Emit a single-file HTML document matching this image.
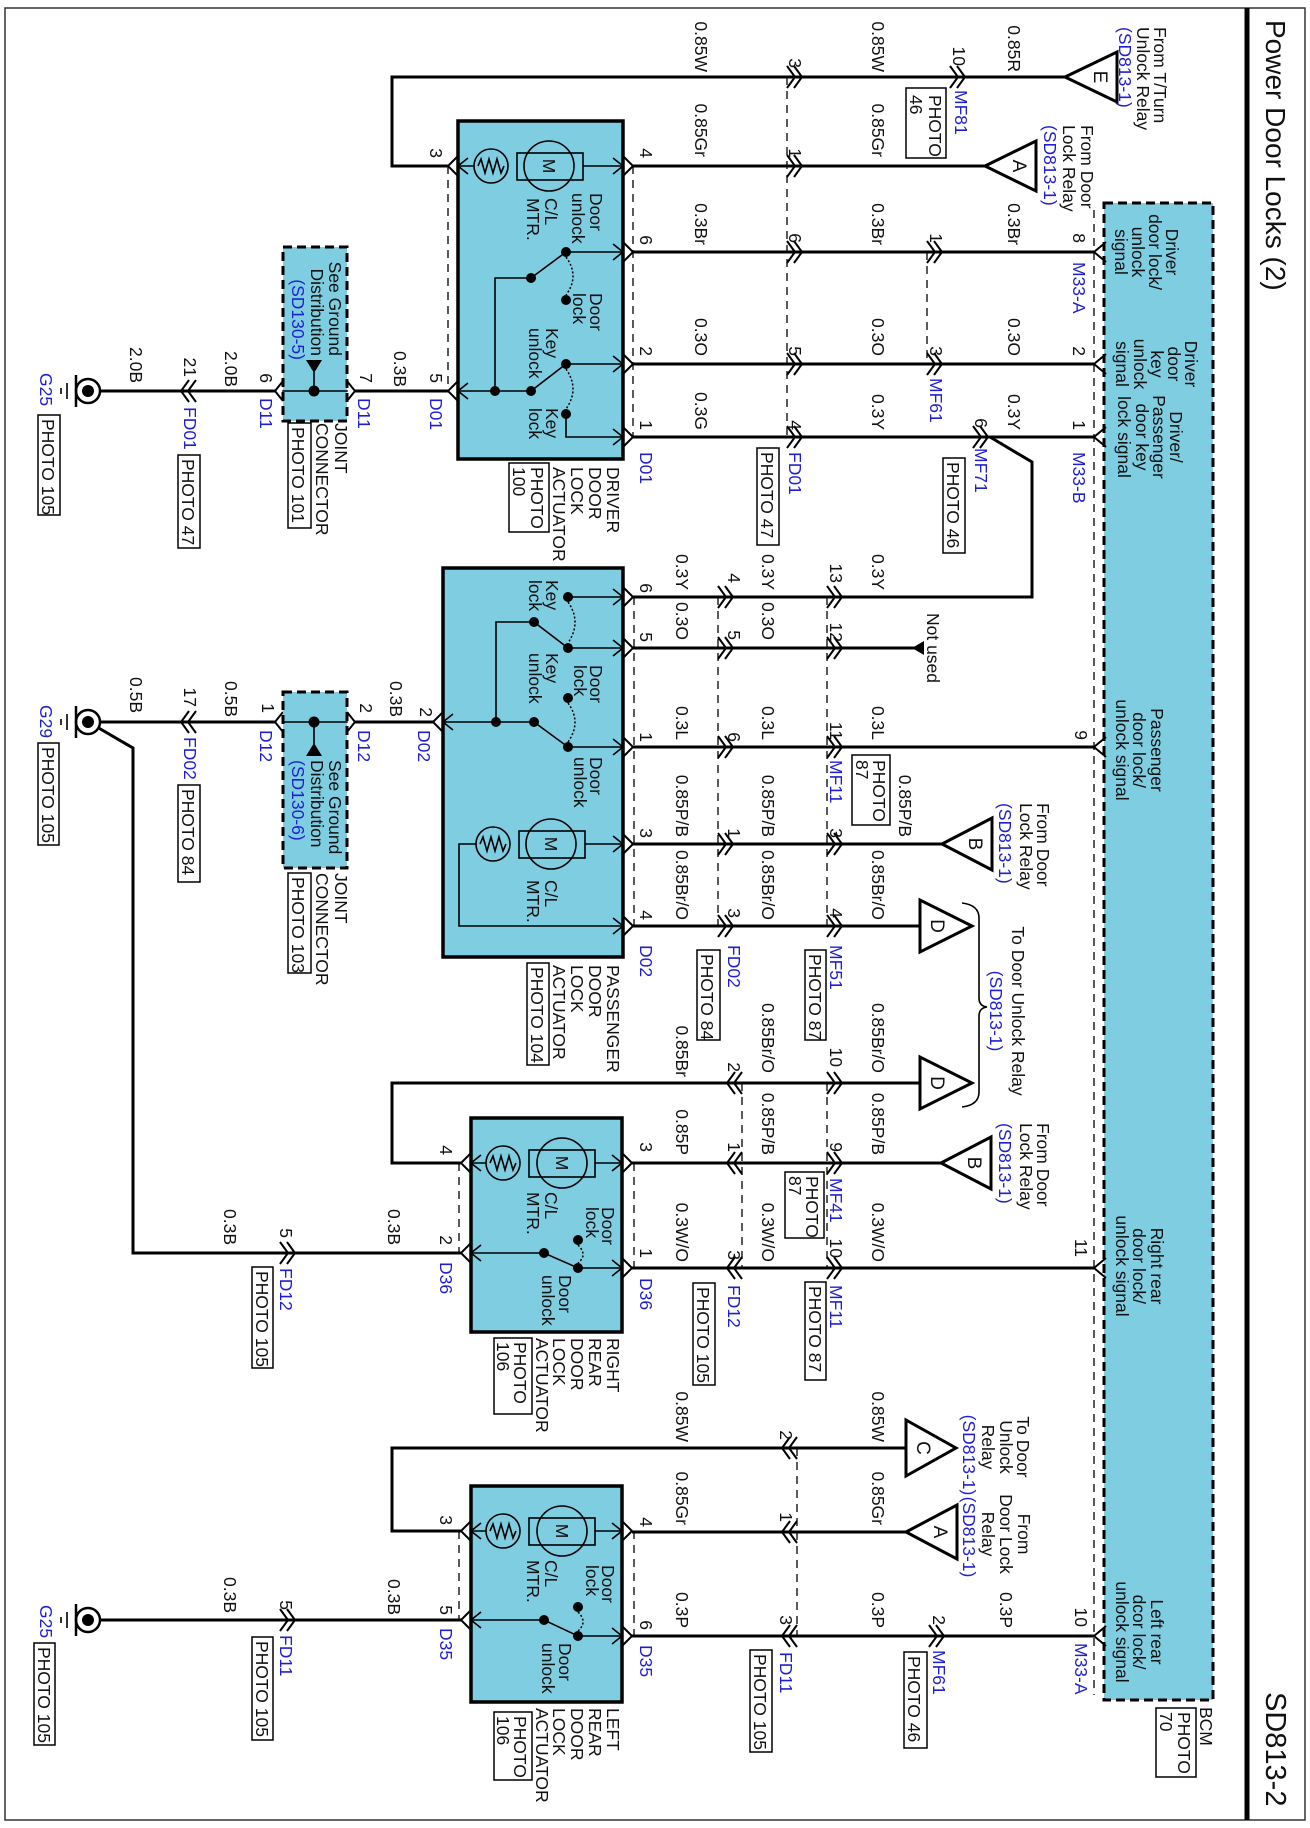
<!DOCTYPE html>
<html><head><meta charset="utf-8"><style>
body{margin:0;background:#fff}
svg{display:block}
text{font-family:"Liberation Sans",Arial,sans-serif;font-size:17.5px;fill:#111}
.b{fill:#1f1fd0}.e{text-anchor:end}.m{text-anchor:middle}
.w{stroke:#000;stroke-width:3;fill:none}
.t{stroke:#000;stroke-width:1.6;fill:none}
.c{stroke:#000;stroke-width:2;fill:none}
.d{stroke:#000;stroke-width:1.3;fill:none;stroke-dasharray:8 6}
.dt{stroke:#000;stroke-width:1.5;fill:none;stroke-dasharray:2 2}
.box{fill:#7fcde1;stroke:#000;stroke-width:3.5}
.jb{fill:#7fcde1;stroke:#000;stroke-width:3;stroke-dasharray:9 5}
.pb{fill:#fff;stroke:#000;stroke-width:1.5}
.tri{fill:#fff;stroke:#000;stroke-width:3}
</style></head><body>
<svg width="1310" height="1828" viewBox="0 0 1310 1828" xmlns="http://www.w3.org/2000/svg">
<rect x="5" y="8" width="1300" height="1812" fill="none" stroke="#333" stroke-width="1.5"/>
<line x1="1247" y1="8" x2="1247" y2="1820" stroke="#000" stroke-width="5"/>
<text transform="translate(1266 20) rotate(90)" style="font-size:28px">Power Door Locks (2)</text>
<text transform="translate(1266 1692) rotate(90)" style="font-size:29px">SD813-2</text>

<!-- BCM -->
<rect x="1104" y="203" width="109" height="1497" class="jb"/>
<line x1="1094" y1="210" x2="1094" y2="1695" class="d"/>
<path class="c" d="M1106 242L1094 252L1106 262M1106 354L1094 364L1106 374M1106 427L1094 437L1106 447M1106 737L1094 747L1106 757M1106 1258L1094 1268L1106 1278M1106 1626L1094 1636L1106 1646"/>
<g>
<text class="m" transform="translate(1166 252) rotate(90)">Driver</text>
<text class="m" transform="translate(1149 252) rotate(90)">door lock/</text>
<text class="m" transform="translate(1132 252) rotate(90)">unlock</text>
<text class="m" transform="translate(1115 252) rotate(90)">signal</text>
<text class="m" transform="translate(1185 364) rotate(90)">Driver</text>
<text class="m" transform="translate(1168 364) rotate(90)">door</text>
<text class="m" transform="translate(1151 364) rotate(90)">key</text>
<text class="m" transform="translate(1134 364) rotate(90)">unlock</text>
<text class="m" transform="translate(1116 364) rotate(90)">signal</text>
<text class="m" transform="translate(1170 437) rotate(90)">Driver/</text>
<text class="m" transform="translate(1153 437) rotate(90)">Passenger</text>
<text class="m" transform="translate(1136 437) rotate(90)">door key</text>
<text class="m" transform="translate(1118 437) rotate(90)">lock signal</text>
<text class="m" transform="translate(1151 750) rotate(90)">Passenger</text>
<text class="m" transform="translate(1133 750) rotate(90)">door lock/</text>
<text class="m" transform="translate(1116 750) rotate(90)">unlock signal</text>
<text class="m" transform="translate(1151 1266) rotate(90)">Right rear</text>
<text class="m" transform="translate(1133 1266) rotate(90)">door lock/</text>
<text class="m" transform="translate(1116 1266) rotate(90)">unlock signal</text>
<text class="m" transform="translate(1151 1632) rotate(90)">Left rear</text>
<text class="m" transform="translate(1133 1632) rotate(90)">dcor lock/</text>
<text class="m" transform="translate(1116 1632) rotate(90)">unlock signal</text>
<text transform="translate(1200 1707) rotate(90)">BCM</text>
</g>
<rect x="1156" y="1708" width="40" height="69" class="pb"/>
<text transform="translate(1178 1712) rotate(90)">PHOTO</text>
<text transform="translate(1160 1712) rotate(90)">70</text>

<!-- WIRES -->
<path class="w" d="M1065 77H392V166H448"/>
<path class="w" d="M985 166H633"/>
<path class="w" d="M1094 252H633M1094 364H633M1094 437H633"/>
<path class="w" d="M990 437L1032 462V597H633"/>
<path class="w" d="M448 391H355M275 391H100"/>
<path class="w" d="M1094 747H633M942 844H633M920 926H633M918 648H633"/>
<path class="w" d="M433 722H355M275 722H100"/>
<path class="w" d="M97 727L133 748V1253H461"/>
<path class="w" d="M920 1083H392V1163H461M941 1163H632M1094 1268H632"/>
<path class="w" d="M906 1448H392V1531H461M906 1532H632M1094 1636H632M461 1620H100"/>

<!-- chevrons -->
<path class="c" d="M950 66L958 77L950 88M957 66L965 77L957 88
M787 66L795 77L787 88M794 66L802 77L794 88
M787 155L795 166L787 177M794 155L802 166L794 177
M927 241L935 252L927 263M934 241L942 252L934 263
M787 241L795 252L787 263M794 241L802 252L794 263
M927 353L935 364L927 375M934 353L942 364L934 375
M787 353L795 364L787 375M794 353L802 364L794 375
M973 426L981 437L973 448M980 426L988 437L980 448
M787 426L795 437L787 448M794 426L802 437L794 448
M827 586L835 597L827 608M834 586L842 597L834 608
M827 637L835 648L827 659M834 637L842 648L834 659
M827 736L835 747L827 758M834 736L842 747L834 758
M827 833L835 844L827 855M834 833L842 844L834 855
M827 915L835 926L827 937M834 915L842 926L834 937
M718 586L726 597L718 608M725 586L733 597L725 608
M718 637L726 648L718 659M725 637L733 648L725 659
M718 736L726 747L718 758M725 736L733 747L725 758
M718 833L726 844L718 855M725 833L733 844L725 855
M718 915L726 926L718 937M725 915L733 926L725 937
M827 1072L835 1083L827 1094M834 1072L842 1083L834 1094
M827 1152L835 1163L827 1174M834 1152L842 1163L834 1174
M827 1257L835 1268L827 1279M834 1257L842 1268L834 1279
M742 1072L734 1083L742 1094M735 1072L727 1083L735 1094
M742 1152L734 1163L742 1174M735 1152L727 1163L735 1174
M742 1257L734 1268L742 1279M735 1257L727 1268L735 1279
M797 1437L789 1448L797 1459M790 1437L782 1448L790 1459
M797 1521L789 1532L797 1543M790 1521L782 1532L790 1543
M797 1625L789 1636L797 1647M790 1625L782 1636L790 1647
M929 1625L937 1636L929 1647M936 1625L944 1636L936 1647
M280 1242L288 1253L280 1264M287 1242L295 1253L287 1264
M280 1609L288 1620L280 1631M287 1609L295 1620L287 1631
M196 380L188 391L196 402M189 380L181 391L189 402
M196 711L188 722L196 733M189 711L181 722L189 733"/>

<!-- dashed connector groups -->
<path class="d" d="M787 77V437M927 252V364M633 166V437M448 166V391
M718 597V926M827 597V926M634 597V926
M827 1083V1268M742 1083V1268M634 1163V1268M459 1163V1253
M797 1448V1636M634 1531V1636M459 1531V1620"/>

<!-- triangles -->
<polygon class="tri" points="1065,77 1117,52 1117,102"/>
<polygon class="tri" points="985,166 1036,141 1036,191"/>
<polygon class="tri" points="942,844 992,818 992,870"/>
<polygon class="tri" points="920,900 920,952 972,926"/>
<polygon class="tri" points="920,1057 920,1109 972,1083"/>
<polygon class="tri" points="941,1163 991,1137 991,1189"/>
<polygon class="tri" points="906,1420 906,1476 956,1448"/>
<polygon class="tri" points="906,1532 957,1505 957,1559"/>
<g style="font-size:19px">
<text class="m" transform="translate(1094 77) rotate(90)" style="font-size:19px">E</text>
<text class="m" transform="translate(1013 166) rotate(90)" style="font-size:19px">A</text>
<text class="m" transform="translate(969 844) rotate(90)" style="font-size:19px">B</text>
<text class="m" transform="translate(931 926) rotate(90)" style="font-size:19px">D</text>
<text class="m" transform="translate(931 1083) rotate(90)" style="font-size:19px">D</text>
<text class="m" transform="translate(968 1163) rotate(90)" style="font-size:19px">B</text>
<text class="m" transform="translate(917 1448) rotate(90)" style="font-size:19px">C</text>
<text class="m" transform="translate(934 1532) rotate(90)" style="font-size:19px">A</text>
</g>
<path class="t" d="M962 903Q979 905 979 918V998Q979 1006 987 1007Q979 1008 979 1016V1092Q979 1105 962 1107"/>
<polygon points="912,648 924,641 924,655" fill="#000"/>

<!-- ACTUATOR BOXES -->
<rect x="458" y="121" width="165" height="338" class="box"/>
<rect x="443" y="568" width="180" height="389" class="box"/>
<rect x="471" y="1118" width="151" height="214" class="box"/>
<rect x="471" y="1486" width="151" height="216" class="box"/>
<!-- outer pin chevrons -->
<path class="c" d="M623 156L633 166L623 176M623 242L633 252L623 262M623 354L633 364L623 374M623 427L633 437L623 447
M458 156L448 166L458 176M458 381L448 391L458 401
M623 587L633 597L623 607M623 638L633 648L623 658M623 737L633 747L623 757M623 834L633 844L623 854M623 916L633 926L623 936
M443 712L433 722L443 732
M622 1153L632 1163L622 1173M622 1258L632 1268L622 1278M471 1153L461 1163L471 1173M471 1243L461 1253L471 1263
M622 1521L632 1531L622 1541M622 1626L632 1636L622 1646M471 1521L461 1531L471 1541M471 1610L461 1620L471 1630
M347 381L355 391L347 401M283 381L275 391L283 401M347 712L355 722L347 732M283 712L275 722L283 732"/>
<!-- inner arrows -->
<path class="t" d="M613 158L623 166L613 174M613 244L623 252L613 260M613 356L623 364L613 372M613 429L623 437L613 445
M468 158L458 166L468 174M468 383L458 391L468 399
M613 589L623 597L613 605M613 640L623 648L613 656M613 739L623 747L613 755M613 836L623 844L613 852M613 918L623 926L613 934
M453 714L443 722L453 730
M612 1155L622 1163L612 1171M612 1260L622 1268L612 1276M481 1155L471 1163L481 1171M481 1245L471 1253L481 1261
M612 1523L622 1531L612 1539M612 1628L622 1636L612 1644M481 1523L471 1531L481 1539M481 1612L471 1620L481 1628
M337 383L347 391L337 399M293 383L283 391L293 399M337 714L347 722L337 730M293 714L283 722L293 730"/>

<!-- motors -->
<g class="t">
<path d="M583 166H623M474 166H458"/>
<path d="M585 844H623M476 844H459V926H623"/>
<path d="M595 1163H622M486 1163H471"/>
<path d="M595 1531H622M486 1531H471"/>
</g>
<g>
<rect x="517" y="153" width="66" height="27" fill="#7fcde1" class="t"/>
<circle cx="549" cy="166" r="25" fill="#7fcde1" class="t"/>
<circle cx="491" cy="166" r="17" fill="#7fcde1" class="t"/>
<polyline class="t" points="478,166 481,159 485,173 489,159 493,173 497,159 501,173 504,166"/>
<rect x="519" y="831" width="66" height="27" fill="#7fcde1" class="t"/>
<circle cx="551" cy="844" r="25" fill="#7fcde1" class="t"/>
<circle cx="493" cy="844" r="17" fill="#7fcde1" class="t"/>
<polyline class="t" points="480,844 483,837 487,851 491,837 495,851 499,837 503,851 506,844"/>
<rect x="529" y="1150" width="66" height="27" fill="#7fcde1" class="t"/>
<circle cx="562" cy="1163" r="25" fill="#7fcde1" class="t"/>
<circle cx="503" cy="1163" r="17" fill="#7fcde1" class="t"/>
<polyline class="t" points="490,1163 493,1156 497,1170 501,1156 505,1170 509,1156 513,1170 516,1163"/>
<rect x="529" y="1518" width="66" height="27" fill="#7fcde1" class="t"/>
<circle cx="562" cy="1531" r="25" fill="#7fcde1" class="t"/>
<circle cx="503" cy="1531" r="17" fill="#7fcde1" class="t"/>
<polyline class="t" points="490,1531 493,1524 497,1538 501,1524 505,1538 509,1524 513,1538 516,1531"/>
</g>
<text class="m" transform="translate(543 166) rotate(90)">M</text>
<text class="m" transform="translate(545 844) rotate(90)">M</text>
<text class="m" transform="translate(556 1163) rotate(90)">M</text>
<text class="m" transform="translate(556 1531) rotate(90)">M</text>

<!-- switches -->
<path class="t" d="M458 391H531M495 391V278H531M531 278L566 252M566 252H623M531 391L566 364M566 364H623M566 414V437H623
M443 722H534M496 722V622H534M534 622L568 648M568 648H623M568 597H623M534 722L568 747M568 747H623
M471 1253H544L578 1268H622M471 1620H544L578 1636H622"/>
<path class="dt" d="M566 257Q580 276 566 295M566 369Q580 389 566 409M568 602Q582 622 568 643M568 703Q582 722 568 742M578 1245Q588 1255 578 1263M578 1612Q588 1622 578 1631"/>
<g fill="#000">
<circle cx="495" cy="391" r="5"/><circle cx="531" cy="278" r="5"/><circle cx="566" cy="252" r="5"/><circle cx="566" cy="300" r="5"/>
<circle cx="531" cy="391" r="5"/><circle cx="566" cy="364" r="5"/><circle cx="566" cy="414" r="5"/>
<circle cx="496" cy="722" r="5"/><circle cx="534" cy="622" r="5"/><circle cx="568" cy="648" r="5"/><circle cx="568" cy="597" r="5"/>
<circle cx="534" cy="722" r="5"/><circle cx="568" cy="747" r="5"/><circle cx="568" cy="698" r="5"/>
<circle cx="544" cy="1253" r="5"/><circle cx="578" cy="1268" r="5"/><circle cx="578" cy="1240" r="5"/>
<circle cx="544" cy="1620" r="5"/><circle cx="578" cy="1636" r="5"/><circle cx="578" cy="1607" r="5"/>
</g>

<!-- inner texts -->
<g>
<text transform="translate(590 193) rotate(90)">Door</text><text transform="translate(572 193) rotate(90)">unlock</text>
<text transform="translate(545 198) rotate(90)">C/L</text><text transform="translate(527 198) rotate(90)">MTR.</text>
<text transform="translate(590 293) rotate(90)">Door</text><text transform="translate(573 293) rotate(90)">lock</text>
<text transform="translate(546 328) rotate(90)">Key</text><text transform="translate(529 328) rotate(90)">unlock</text>
<text transform="translate(546 408) rotate(90)">Key</text><text transform="translate(529 408) rotate(90)">lock</text>
<text transform="translate(546 580) rotate(90)">Key</text><text transform="translate(529 580) rotate(90)">lock</text>
<text transform="translate(546 653) rotate(90)">Key</text><text transform="translate(529 653) rotate(90)">unlock</text>
<text transform="translate(590 665) rotate(90)">Door</text><text transform="translate(574 665) rotate(90)">lock</text>
<text transform="translate(590 757) rotate(90)">Door</text><text transform="translate(574 757) rotate(90)">unlock</text>
<text transform="translate(545 880) rotate(90)">C/L</text><text transform="translate(527 880) rotate(90)">MTR.</text>
<text transform="translate(602 1207) rotate(90)">Door</text><text transform="translate(586 1207) rotate(90)">lock</text>
<text transform="translate(545 1192) rotate(90)">C/L</text><text transform="translate(527 1192) rotate(90)">MTR.</text>
<text transform="translate(559 1275) rotate(90)">Door</text><text transform="translate(542 1275) rotate(90)">unlock</text>
<text transform="translate(602 1565) rotate(90)">Door</text><text transform="translate(586 1565) rotate(90)">lock</text>
<text transform="translate(545 1560) rotate(90)">C/L</text><text transform="translate(527 1560) rotate(90)">MTR.</text>
<text transform="translate(559 1643) rotate(90)">Door</text><text transform="translate(542 1643) rotate(90)">unlock</text>
</g>

<!-- actuator labels -->
<g>
<text transform="translate(607 467) rotate(90)">DRIVER</text><text transform="translate(589 467) rotate(90)">DOOR</text>
<text transform="translate(571 467) rotate(90)">LOCK</text><text transform="translate(553 467) rotate(90)">ACTUATOR</text>
<text transform="translate(607 965) rotate(90)">PASSENGER</text><text transform="translate(589 965) rotate(90)">DOOR</text>
<text transform="translate(571 965) rotate(90)">LOCK</text><text transform="translate(553 965) rotate(90)">ACTUATOR</text>
<text transform="translate(607 1338) rotate(90)">RIGHT</text><text transform="translate(589 1338) rotate(90)">REAR</text>
<text transform="translate(571 1338) rotate(90)">DOOR</text><text transform="translate(553 1338) rotate(90)">LOCK</text>
<text transform="translate(536 1338) rotate(90)">ACTUATOR</text>
<text transform="translate(607 1708) rotate(90)">LEFT</text><text transform="translate(589 1708) rotate(90)">REAR</text>
<text transform="translate(571 1708) rotate(90)">DOOR</text><text transform="translate(553 1708) rotate(90)">LOCK</text>
<text transform="translate(536 1708) rotate(90)">ACTUATOR</text>
</g>

<!-- joint connectors -->
<rect x="283" y="247" width="64" height="174" class="jb"/>
<rect x="283" y="692" width="64" height="176" class="jb"/>
<path class="t" d="M283 391H347M314 391V372M283 722H347M314 722V744"/>
<circle cx="314" cy="391" r="5.5"/><circle cx="314" cy="722" r="5.5"/>
<polygon points="306,360 322,360 314,373"/>
<polygon points="314,743 306,756 322,756"/>
<text class="e" transform="translate(329 356) rotate(90)">See Ground</text>
<text class="e" transform="translate(311 356) rotate(90)">Distribution</text>
<text class="e b" transform="translate(292 360) rotate(90)">(SD130-5)</text>
<text transform="translate(329 760) rotate(90)">See Ground</text>
<text transform="translate(311 760) rotate(90)">Distribution</text>
<text class="b" transform="translate(292 760) rotate(90)">(SD130-6)</text>
<text transform="translate(335 423) rotate(90)">JOINT</text>
<text transform="translate(316 423) rotate(90)">CONNECTOR</text>
<text transform="translate(335 873) rotate(90)">JOINT</text>
<text transform="translate(316 873) rotate(90)">CONNECTOR</text>

<!-- grounds -->
<g>
<circle cx="88" cy="391" r="12" fill="#fff" stroke="#000" stroke-width="2.5"/><circle cx="88" cy="391" r="6"/>
<path class="w" d="M76 375V407" style="stroke-width:2.5"/><path class="t" d="M67 383V399M61 388V394"/>
<circle cx="88" cy="722" r="12" fill="#fff" stroke="#000" stroke-width="2.5"/><circle cx="88" cy="722" r="6"/>
<path class="w" d="M76 706V738" style="stroke-width:2.5"/><path class="t" d="M67 714V730M61 719V725"/>
<circle cx="88" cy="1620" r="12" fill="#fff" stroke="#000" stroke-width="2.5"/><circle cx="88" cy="1620" r="6"/>
<path class="w" d="M76 1604V1636" style="stroke-width:2.5"/><path class="t" d="M67 1612V1628M61 1617V1623"/>
</g>

<!-- photo boxes -->
<g>
<rect x="906" y="88" width="40" height="70" class="pb"/><text transform="translate(929 95) rotate(90)">PHOTO</text><text transform="translate(910 95) rotate(90)">46</text>
<rect x="943" y="458" width="22" height="95" class="pb"/><text transform="translate(947 462) rotate(90)">PHOTO 46</text>
<rect x="757" y="448" width="22" height="97" class="pb"/><text transform="translate(761 452) rotate(90)">PHOTO 47</text>
<rect x="509" y="463" width="40" height="69" class="pb"/><text transform="translate(531 467) rotate(90)">PHOTO</text><text transform="translate(513 467) rotate(90)">100</text>
<rect x="178" y="455" width="22" height="93" class="pb"/><text transform="translate(182 459) rotate(90)">PHOTO 47</text>
<rect x="38" y="415" width="22" height="100" class="pb"/><text transform="translate(42 419) rotate(90)">PHOTO 105</text>
<rect x="288" y="423" width="23" height="105" class="pb"/><text transform="translate(292 427) rotate(90)">PHOTO 101</text>
<rect x="852" y="755" width="38" height="70" class="pb"/><text transform="translate(873 760) rotate(90)">PHOTO</text><text transform="translate(856 760) rotate(90)">87</text>
<rect x="805" y="950" width="21" height="90" class="pb"/><text transform="translate(809 954) rotate(90)">PHOTO 87</text>
<rect x="697" y="950" width="23" height="90" class="pb"/><text transform="translate(701 954) rotate(90)">PHOTO 84</text>
<rect x="527" y="963" width="22" height="102" class="pb"/><text transform="translate(531 967) rotate(90)">PHOTO 104</text>
<rect x="178" y="785" width="22" height="97" class="pb"/><text transform="translate(182 789) rotate(90)">PHOTO 84</text>
<rect x="38" y="743" width="21" height="102" class="pb"/><text transform="translate(42 747) rotate(90)">PHOTO 105</text>
<rect x="288" y="873" width="23" height="100" class="pb"/><text transform="translate(292 877) rotate(90)">PHOTO 103</text>
<rect x="785" y="1172" width="39" height="66" class="pb"/><text transform="translate(806 1176) rotate(90)">PHOTO</text><text transform="translate(789 1176) rotate(90)">87</text>
<rect x="805" y="1282" width="21" height="98" class="pb"/><text transform="translate(809 1286) rotate(90)">PHOTO 87</text>
<rect x="693" y="1283" width="22" height="102" class="pb"/><text transform="translate(697 1287) rotate(90)">PHOTO 105</text>
<rect x="494" y="1338" width="38" height="76" class="pb"/><text transform="translate(514 1342) rotate(90)">PHOTO</text><text transform="translate(497 1342) rotate(90)">106</text>
<rect x="252" y="1267" width="21" height="101" class="pb"/><text transform="translate(256 1271) rotate(90)">PHOTO 105</text>
<rect x="904" y="1652" width="23" height="96" class="pb"/><text transform="translate(908 1656) rotate(90)">PHOTO 46</text>
<rect x="750" y="1650" width="22" height="102" class="pb"/><text transform="translate(754 1654) rotate(90)">PHOTO 105</text>
<rect x="494" y="1712" width="38" height="68" class="pb"/><text transform="translate(514 1716) rotate(90)">PHOTO</text><text transform="translate(497 1716) rotate(90)">106</text>
<rect x="252" y="1637" width="21" height="103" class="pb"/><text transform="translate(256 1641) rotate(90)">PHOTO 105</text>
<rect x="34" y="1643" width="21" height="102" class="pb"/><text transform="translate(38 1647) rotate(90)">PHOTO 105</text>
</g>

<!-- source labels -->
<text transform="translate(1154 27) rotate(90)">From T/Turn</text>
<text transform="translate(1137 27) rotate(90)">Unlock Relay</text>
<text class="b" transform="translate(1119 27) rotate(90)">(SD813-1)</text>
<text transform="translate(1081 125) rotate(90)">From Door</text>
<text transform="translate(1063 125) rotate(90)">Lock Relay</text>
<text class="b" transform="translate(1044 125) rotate(90)">(SD813-1)</text>
<text transform="translate(1037 803) rotate(90)">From Door</text>
<text transform="translate(1020 803) rotate(90)">Lock Relay</text>
<text class="b" transform="translate(999 803) rotate(90)">(SD813-1)</text>
<text class="m" transform="translate(1012 1011) rotate(90)">To Door Unlock Relay</text>
<text class="m b" transform="translate(990 1011) rotate(90)">(SD813-1)</text>
<text transform="translate(1037 1123) rotate(90)">From Door</text>
<text transform="translate(1020 1123) rotate(90)">Lock Relay</text>
<text class="b" transform="translate(999 1123) rotate(90)">(SD813-1)</text>
<text class="m" transform="translate(1017 1447) rotate(90)">To Door</text>
<text class="m" transform="translate(1000 1447) rotate(90)">Unlock</text>
<text class="m" transform="translate(982 1447) rotate(90)">Relay</text>
<text class="m b" transform="translate(963 1455) rotate(90)">(SD813-1)</text>
<text class="m" transform="translate(1018 1534) rotate(90)">From</text>
<text class="m" transform="translate(1000 1534) rotate(90)">Door Lock</text>
<text class="m" transform="translate(982 1534) rotate(90)">Relay</text>
<text class="m b" transform="translate(963 1537) rotate(90)">(SD813-1)</text>
<text class="m" transform="translate(927 648) rotate(90)">Not used</text>

<!-- wire size labels (end anchored) -->
<g class="e">
<text class="e" transform="translate(1008 72) rotate(90)">0.85R</text>
<text class="e" transform="translate(872 72) rotate(90)">0.85W</text>
<text class="e" transform="translate(695 72) rotate(90)">0.85W</text>
<text class="e" transform="translate(872 157) rotate(90)">0.85Gr</text>
<text class="e" transform="translate(695 157) rotate(90)">0.85Gr</text>
<text class="e" transform="translate(1008 245) rotate(90)">0.3Br</text>
<text class="e" transform="translate(872 245) rotate(90)">0.3Br</text>
<text class="e" transform="translate(695 245) rotate(90)">0.3Br</text>
<text class="e" transform="translate(1008 356) rotate(90)">0.3O</text>
<text class="e" transform="translate(872 356) rotate(90)">0.3O</text>
<text class="e" transform="translate(695 356) rotate(90)">0.3O</text>
<text class="e" transform="translate(1008 430) rotate(90)">0.3Y</text>
<text class="e" transform="translate(872 430) rotate(90)">0.3Y</text>
<text class="e" transform="translate(695 430) rotate(90)">0.3G</text>
<text class="e" transform="translate(872 590) rotate(90)">0.3Y</text>
<text class="e" transform="translate(762 590) rotate(90)">0.3Y</text>
<text class="e" transform="translate(676 590) rotate(90)">0.3Y</text>
<text class="e" transform="translate(762 640) rotate(90)">0.3O</text>
<text class="e" transform="translate(676 640) rotate(90)">0.3O</text>
<text class="e" transform="translate(872 740) rotate(90)">0.3L</text>
<text class="e" transform="translate(762 740) rotate(90)">0.3L</text>
<text class="e" transform="translate(676 740) rotate(90)">0.3L</text>
<text class="e" transform="translate(899 837) rotate(90)">0.85P/B</text>
<text class="e" transform="translate(762 837) rotate(90)">0.85P/B</text>
<text class="e" transform="translate(676 837) rotate(90)">0.85P/B</text>
<text class="e" transform="translate(872 920) rotate(90)">0.85Br/O</text>
<text class="e" transform="translate(762 920) rotate(90)">0.85Br/O</text>
<text class="e" transform="translate(676 920) rotate(90)">0.85Br/O</text>
<text class="e" transform="translate(872 1073) rotate(90)">0.85Br/O</text>
<text class="e" transform="translate(762 1073) rotate(90)">0.85Br/O</text>
<text class="e" transform="translate(676 1077) rotate(90)">0.85Br</text>
<text class="e" transform="translate(872 1155) rotate(90)">0.85P/B</text>
<text class="e" transform="translate(762 1155) rotate(90)">0.85P/B</text>
<text class="e" transform="translate(676 1155) rotate(90)">0.85P</text>
<text class="e" transform="translate(872 1262) rotate(90)">0.3W/O</text>
<text class="e" transform="translate(762 1262) rotate(90)">0.3W/O</text>
<text class="e" transform="translate(676 1262) rotate(90)">0.3W/O</text>
<text class="e" transform="translate(872 1442) rotate(90)">0.85W</text>
<text class="e" transform="translate(676 1442) rotate(90)">0.85W</text>
<text class="e" transform="translate(872 1525) rotate(90)">0.85Gr</text>
<text class="e" transform="translate(676 1525) rotate(90)">0.85Gr</text>
<text class="e" transform="translate(1000 1628) rotate(90)">0.3P</text>
<text class="e" transform="translate(872 1628) rotate(90)">0.3P</text>
<text class="e" transform="translate(676 1628) rotate(90)">0.3P</text>
<text class="e" transform="translate(394 387) rotate(90)">0.3B</text>
<text class="e" transform="translate(225 387) rotate(90)">2.0B</text>
<text class="e" transform="translate(130 383) rotate(90)">2.0B</text>
<text class="e" transform="translate(390 717) rotate(90)">0.3B</text>
<text class="e" transform="translate(225 717) rotate(90)">0.5B</text>
<text class="e" transform="translate(130 713) rotate(90)">0.5B</text>
<text class="e" transform="translate(388 1245) rotate(90)">0.3B</text>
<text class="e" transform="translate(224 1245) rotate(90)">0.3B</text>
<text class="e" transform="translate(388 1615) rotate(90)">0.3B</text>
<text class="e" transform="translate(224 1613) rotate(90)">0.3B</text>
<!-- pin numbers -->
<text class="e" transform="translate(953 66) rotate(90)">10</text>
<text class="e" transform="translate(789 68) rotate(90)">3</text>
<text class="e" transform="translate(789 158) rotate(90)">1</text>
<text class="e" transform="translate(1073 243) rotate(90)">8</text>
<text class="e" transform="translate(930 243) rotate(90)">1</text>
<text class="e" transform="translate(789 243) rotate(90)">6</text>
<text class="e" transform="translate(1073 356) rotate(90)">2</text>
<text class="e" transform="translate(930 356) rotate(90)">3</text>
<text class="e" transform="translate(789 356) rotate(90)">5</text>
<text class="e" transform="translate(1073 430) rotate(90)">1</text>
<text class="e" transform="translate(975 428) rotate(90)">6</text>
<text class="e" transform="translate(789 430) rotate(90)">4</text>
<text class="e" transform="translate(640 158) rotate(90)">4</text>
<text class="e" transform="translate(640 245) rotate(90)">6</text>
<text class="e" transform="translate(640 356) rotate(90)">2</text>
<text class="e" transform="translate(640 430) rotate(90)">1</text>
<text class="e" transform="translate(430 158) rotate(90)">3</text>
<text class="e" transform="translate(430 383) rotate(90)">5</text>
<text class="e" transform="translate(360 383) rotate(90)">7</text>
<text class="e" transform="translate(260 383) rotate(90)">6</text>
<text class="e" transform="translate(184 377) rotate(90)">21</text>
<text class="e" transform="translate(830 583) rotate(90)">13</text>
<text class="e" transform="translate(728 583) rotate(90)">4</text>
<text class="e" transform="translate(640 593) rotate(90)">6</text>
<text class="e" transform="translate(830 642) rotate(90)">12</text>
<text class="e" transform="translate(728 640) rotate(90)">5</text>
<text class="e" transform="translate(640 642) rotate(90)">5</text>
<text class="e" transform="translate(1075 740) rotate(90)">9</text>
<text class="e" transform="translate(830 740) rotate(90)">11</text>
<text class="e" transform="translate(728 742) rotate(90)">6</text>
<text class="e" transform="translate(640 742) rotate(90)">1</text>
<text class="e" transform="translate(830 838) rotate(90)">3</text>
<text class="e" transform="translate(728 838) rotate(90)">1</text>
<text class="e" transform="translate(640 838) rotate(90)">3</text>
<text class="e" transform="translate(830 918) rotate(90)">4</text>
<text class="e" transform="translate(728 918) rotate(90)">3</text>
<text class="e" transform="translate(640 920) rotate(90)">4</text>
<text class="e" transform="translate(420 717) rotate(90)">2</text>
<text class="e" transform="translate(360 713) rotate(90)">2</text>
<text class="e" transform="translate(262 713) rotate(90)">1</text>
<text class="e" transform="translate(184 707) rotate(90)">17</text>
<text class="e" transform="translate(830 1067) rotate(90)">10</text>
<text class="e" transform="translate(728 1072) rotate(90)">2</text>
<text class="e" transform="translate(830 1152) rotate(90)">9</text>
<text class="e" transform="translate(728 1152) rotate(90)">1</text>
<text class="e" transform="translate(640 1152) rotate(90)">3</text>
<text class="e" transform="translate(440 1155) rotate(90)">4</text>
<text class="e" transform="translate(1075 1257) rotate(90)">11</text>
<text class="e" transform="translate(830 1258) rotate(90)">10</text>
<text class="e" transform="translate(728 1260) rotate(90)">3</text>
<text class="e" transform="translate(640 1258) rotate(90)">1</text>
<text class="e" transform="translate(440 1245) rotate(90)">2</text>
<text class="e" transform="translate(280 1238) rotate(90)">5</text>
<text class="e" transform="translate(780 1440) rotate(90)">2</text>
<text class="e" transform="translate(780 1522) rotate(90)">1</text>
<text class="e" transform="translate(1075 1627) rotate(90)">10</text>
<text class="e" transform="translate(933 1625) rotate(90)">2</text>
<text class="e" transform="translate(780 1625) rotate(90)">3</text>
<text class="e" transform="translate(640 1527) rotate(90)">4</text>
<text class="e" transform="translate(640 1630) rotate(90)">6</text>
<text class="e" transform="translate(440 1525) rotate(90)">3</text>
<text class="e" transform="translate(440 1615) rotate(90)">5</text>
<text class="e" transform="translate(280 1610) rotate(90)">5</text>
</g>

<!-- connector ids (blue) -->
<g>
<text class="b" transform="translate(955 90) rotate(90)">MF81</text>
<text class="b" transform="translate(1073 262) rotate(90)">M33-A</text>
<text class="b" transform="translate(930 378) rotate(90)">MF61</text>
<text class="b" transform="translate(1073 452) rotate(90)">M33-B</text>
<text class="b" transform="translate(975 448) rotate(90)">MF71</text>
<text class="b" transform="translate(789 452) rotate(90)">FD01</text>
<text class="b" transform="translate(640 452) rotate(90)">D01</text>
<text class="b" transform="translate(430 398) rotate(90)">D01</text>
<text class="b" transform="translate(358 398) rotate(90)">D11</text>
<text class="b" transform="translate(260 398) rotate(90)">D11</text>
<text class="b" transform="translate(184 407) rotate(90)">FD01</text>
<text class="b" transform="translate(40 373) rotate(90)">G25</text>
<text class="b" transform="translate(830 760) rotate(90)">MF11</text>
<text class="b" transform="translate(640 945) rotate(90)">D02</text>
<text class="b" transform="translate(830 945) rotate(90)">MF51</text>
<text class="b" transform="translate(728 945) rotate(90)">FD02</text>
<text class="b" transform="translate(418 730) rotate(90)">D02</text>
<text class="b" transform="translate(358 730) rotate(90)">D12</text>
<text class="b" transform="translate(260 730) rotate(90)">D12</text>
<text class="b" transform="translate(184 737) rotate(90)">FD02</text>
<text class="b" transform="translate(40 705) rotate(90)">G29</text>
<text class="b" transform="translate(830 1178) rotate(90)">MF41</text>
<text class="b" transform="translate(830 1285) rotate(90)">MF11</text>
<text class="b" transform="translate(728 1285) rotate(90)">FD12</text>
<text class="b" transform="translate(640 1278) rotate(90)">D36</text>
<text class="b" transform="translate(440 1262) rotate(90)">D36</text>
<text class="b" transform="translate(280 1268) rotate(90)">FD12</text>
<text class="b" transform="translate(1075 1643) rotate(90)">M33-A</text>
<text class="b" transform="translate(933 1650) rotate(90)">MF61</text>
<text class="b" transform="translate(780 1652) rotate(90)">FD11</text>
<text class="b" transform="translate(640 1645) rotate(90)">D35</text>
<text class="b" transform="translate(440 1628) rotate(90)">D35</text>
<text class="b" transform="translate(280 1635) rotate(90)">FD11</text>
<text class="b" transform="translate(40 1605) rotate(90)">G25</text>
</g>
</svg>
</body></html>
